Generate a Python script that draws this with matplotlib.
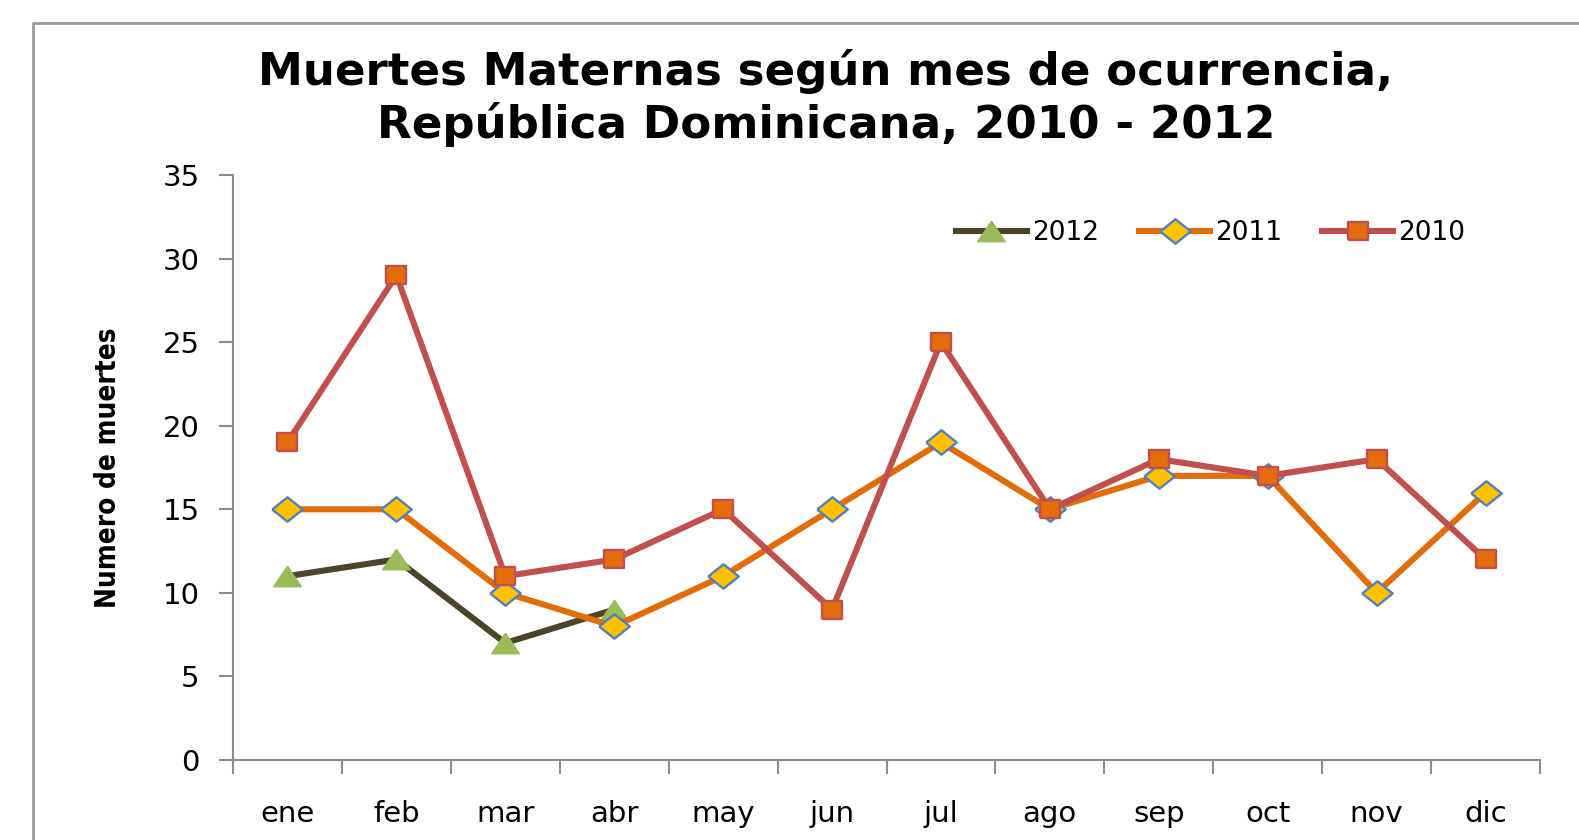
import numpy as np
import matplotlib
matplotlib.use("Agg")
from matplotlib import pyplot as plt
from matplotlib.lines import Line2D

# month labels and deaths per year
months = ["ene", "feb", "mar", "abr", "may", "jun", "jul", "ago", "sep", "oct", "nov", "dic"]
deaths_2012 = [11, 12, 7, 9]
deaths_2011 = [15, 15, 10, 8, 11, 15, 19, 15, 17, 17, 10, 16]
deaths_2010 = [19, 29, 11, 12, 15, 9, 25, 15, 18, 17, 18, 12]

W, H = 1579, 840
fig = plt.figure(figsize=(W / 100, H / 100), dpi=100)
ax = fig.add_axes([233 / W, 1 - 760 / H, (1540 - 233) / W, (760 - 175) / H])

x = np.arange(len(months))

# the original is a bit stretched sideways, so the markers are wider than tall
tri = [(0, 0.85), (-1.15, -0.85), (1.15, -0.85), (0, 0.85)]
diamond = [(-1.25, 0), (0, 1), (1.25, 0), (0, -1), (-1.25, 0)]
square = [(-1.1, -1), (1.1, -1), (1.1, 1), (-1.1, 1), (-1.1, -1)]

# 2012 first so it sits underneath
ax.plot(x[:len(deaths_2012)], deaths_2012, color="#4A452A", lw=4.4, marker=tri,
        ms=20, mfc="#9BBB59", mec="#9BBB59", label="2012", zorder=3)
ax.plot(x, deaths_2011, color="#E36C09", lw=4.4, marker=diamond, ms=22,
        mfc="#FFC000", mec="#4F81BD", mew=1.7, label="2011", zorder=4)
ax.plot(x, deaths_2010, color="#C0504D", lw=4.4, marker=square, ms=14,
        mfc="#E46C0A", mec="#C0504D", mew=1.7, label="2010", zorder=5)

ax.set_xlim(-0.5, len(months) - 0.5)
ax.set_ylim(0, 35)
ax.set_yticks(range(0, 36, 5))
ax.set_xticks(x)
ax.set_xticklabels(months)
ax.set_xticks(np.arange(-0.5, len(months)), minor=True)
ax.tick_params(axis="x", which="major", length=0, pad=29, labelsize=21)
ax.tick_params(axis="x", which="minor", length=10, width=1.5, color="#8C8C8C", direction="out")
ax.tick_params(axis="y", length=10, width=1.5, color="#8C8C8C", direction="out", pad=14, labelsize=21)

for side in ["top", "right"]:
    ax.spines[side].set_visible(False)
for side in ["left", "bottom"]:
    ax.spines[side].set_color("#8C8C8C")
    ax.spines[side].set_linewidth(1.5)

ax.set_ylabel("Numero de muertes", fontsize=20, fontweight="bold", fontstretch="condensed",
              family=["DejaVu Sans Condensed", "DejaVu Sans"], labelpad=29)

fig.text(826 / W, 1 - 98 / H, "Muertes Maternas según mes de ocurrencia,\nRepública Dominicana, 2010 - 2012",
         ha="center", va="center", fontsize=32.5, fontweight="bold", linespacing=1.22)

ax.legend(loc="center left", bbox_to_anchor=(0.553, 0.90), ncol=3, frameon=False,
          prop={"family": "DejaVu Sans", "stretch": "normal", "size": 19},
          handlelength=2.7, columnspacing=1.5, handletextpad=0.2,
          borderaxespad=0, borderpad=0)

# outer chart-area border (left and top only visible in the crop)
fig.add_artist(Line2D([33 / W, 33 / W, 1.0], [0.0, 1 - 23 / H, 1 - 23 / H],
                      transform=fig.transFigure, color="#9A9A9A", lw=2))

plt.savefig("out.png", dpi=100)
